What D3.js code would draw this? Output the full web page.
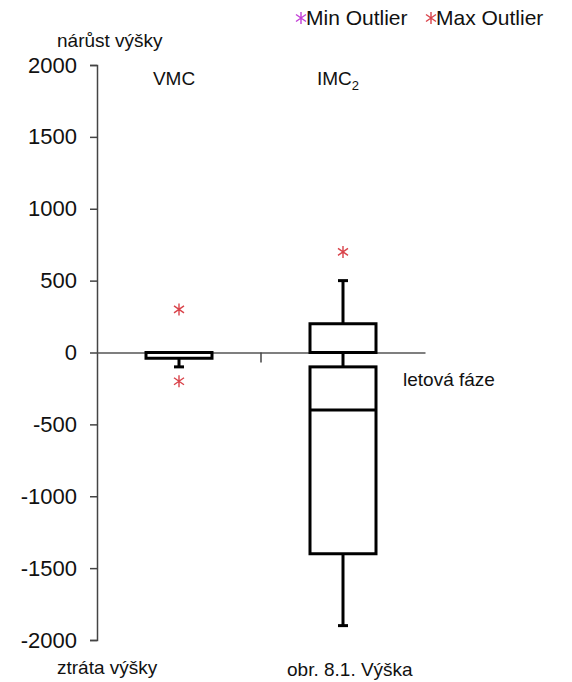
<!DOCTYPE html>
<html>
<head>
<meta charset="utf-8">
<script src="https://cdn.jsdelivr.net/npm/d3@7"></script>
<style>
  html, body { margin: 0; padding: 0; background: #fff; }
  svg { display: block; font-family: Arial, "Liberation Sans", sans-serif; }
</style>
</head>
<body>
<svg id="chart" width="572" height="682"></svg>
<script>
// Categories (flight phase) and box-plot statistics, altitude change in ft
const categories = ["VMC", "IMC"];
const categorySub = ["", "2"];

// One entry per drawn box; IMC2 has a gain box and a loss box
const boxCategory = ["VMC", "IMC", "IMC"];
const whiskerMin = [-100, 0, -1900];
const q1 = [-40, 0, -1400];
const median = [0, 0, -400];
const q3 = [0, 200, -100];
const whiskerMax = [0, 500, 0];

// Outliers
const maxOutlierCategory = ["VMC", "VMC", "IMC"];
const maxOutlierValue = [300, -200, 700];
const minOutlierCategory = [];
const minOutlierValue = [];

const yTicks = [-2000, -1500, -1000, -500, 0, 500, 1000, 1500, 2000];

const svg = d3.select("#chart");

const y = d3.scaleLinear().domain([-2000, 2000]).range([640, 65]);
const x = d3.scaleBand().domain(categories).range([97, 425]).padding(0);
const boxW = 66;
const capW = 10;
const cx = c => x(c) + x.bandwidth() / 2;

// Y axis
const yAxis = svg.append("g")
  .attr("transform", "translate(97,0)")
  .call(d3.axisLeft(y).tickValues(yTicks).tickSize(7).tickPadding(13).tickFormat(d => String(d)));
yAxis.select(".domain").attr("stroke", "#444").attr("stroke-width", 1.5);
yAxis.selectAll(".tick line").attr("stroke", "#444").attr("stroke-width", 1.5);
yAxis.selectAll(".tick text")
  .attr("font-size", 22).attr("fill", "#111")
  .attr("font-family", "Arial, 'Liberation Sans', sans-serif");

// Category axis along zero
const xAxis = svg.append("g")
  .attr("transform", `translate(0,${y(0)})`)
  .call(d3.axisBottom(x).tickSize(0).tickSizeOuter(0).tickFormat(""));
xAxis.select(".domain").attr("stroke", "#555").attr("stroke-width", 1.5);
xAxis.selectAll(".tick").remove();
xAxis.selectAll("line.sep")
  .data(categories.slice(0, -1))
  .join("line")
  .attr("class", "sep")
  .attr("x1", d => x(d) + x.bandwidth()).attr("x2", d => x(d) + x.bandwidth())
  .attr("y1", 0).attr("y2", 10)
  .attr("stroke", "#444").attr("stroke-width", 1.5);

// Category labels above the plot
const catLabels = svg.append("g").selectAll("text")
  .data(categories)
  .join("text")
  .attr("x", d => cx(d) - 5)
  .attr("y", 85)
  .attr("text-anchor", "middle")
  .attr("font-size", 19)
  .attr("fill", "#111");
catLabels.append("tspan").text(d => d);
catLabels.append("tspan")
  .attr("font-size", 13)
  .attr("dy", 5)
  .text((d, i) => categorySub[i]);

// Boxes
const boxes = svg.append("g")
  .attr("fill", "none").attr("stroke", "#000").attr("stroke-width", 3);

boxCategory.forEach((c, i) => {
  const xc = cx(c);
  const g = boxes.append("g");
  // whiskers
  g.append("line").attr("x1", xc).attr("x2", xc)
    .attr("y1", y(whiskerMax[i])).attr("y2", y(q3[i]));
  g.append("line").attr("x1", xc).attr("x2", xc)
    .attr("y1", y(q1[i])).attr("y2", y(whiskerMin[i]));
  [whiskerMin[i], whiskerMax[i]].forEach(v => {
    g.append("line").attr("x1", xc - capW / 2).attr("x2", xc + capW / 2)
      .attr("y1", y(v)).attr("y2", y(v));
  });
  // box
  g.append("rect")
    .attr("x", xc - boxW / 2).attr("width", boxW)
    .attr("y", y(q3[i])).attr("height", y(q1[i]) - y(q3[i]))
    .attr("fill", "#fff");
  // median
  g.append("line").attr("x1", xc - boxW / 2).attr("x2", xc + boxW / 2)
    .attr("y1", y(median[i])).attr("y2", y(median[i]));
});

// Asterisk marker
const star = "M0,-6V6M-5,-3.5L5,3.5M-5,3.5L5,-3.5";
const maxColor = "#d9434a";
const minColor = "#c33fd6";

svg.append("g").selectAll("path.max")
  .data(maxOutlierValue)
  .join("path")
  .attr("class", "max")
  .attr("d", star)
  .attr("transform", (d, i) => `translate(${cx(maxOutlierCategory[i])},${y(d)})`)
  .attr("fill", "none").attr("stroke", maxColor).attr("stroke-width", 1.4);

svg.append("g").selectAll("path.min")
  .data(minOutlierValue)
  .join("path")
  .attr("class", "min")
  .attr("d", star)
  .attr("transform", (d, i) => `translate(${cx(minOutlierCategory[i])},${y(d)})`)
  .attr("fill", "none").attr("stroke", minColor).attr("stroke-width", 1.4);

// Legend
const legendItems = [
  { label: "Min Outlier", color: minColor, x: 301 },
  { label: "Max Outlier", color: maxColor, x: 431 }
];
const legend = svg.append("g").selectAll("g")
  .data(legendItems)
  .join("g")
  .attr("transform", d => `translate(${d.x},18)`);
legend.append("path")
  .attr("d", "M0,-6V6M-5,-3.5L5,3.5M-5,3.5L5,-3.5")
  .attr("fill", "none").attr("stroke", d => d.color).attr("stroke-width", 1.4);
legend.append("text")
  .attr("x", 5).attr("y", 7)
  .attr("font-size", 21).attr("fill", "#111")
  .text(d => d.label);

// Annotations
const notes = [
  { text: "nárůst výšky", x: 57, y: 47 },
  { text: "letová fáze", x: 403, y: 386 },
  { text: "ztráta výšky", x: 57, y: 674 },
  { text: "obr. 8.1. Výška", x: 287, y: 676 }
];
svg.append("g").selectAll("text")
  .data(notes)
  .join("text")
  .attr("x", d => d.x).attr("y", d => d.y)
  .attr("font-size", 19).attr("fill", "#111")
  .text(d => d.text);
</script>
</body>
</html>
